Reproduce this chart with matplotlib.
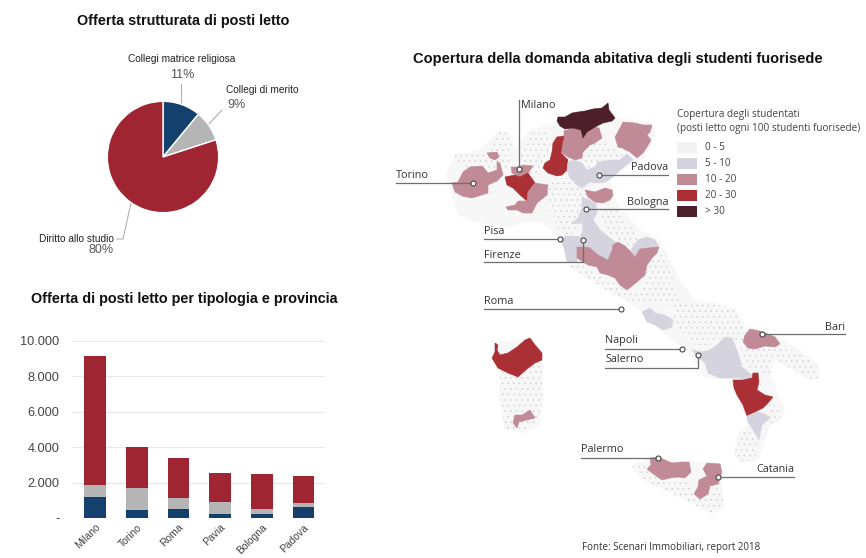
import matplotlib
matplotlib.use('Agg')
import matplotlib.pyplot as plt
from matplotlib.patches import Polygon, Rectangle
from matplotlib.ticker import FuncFormatter

W, H = 866, 558

# torta
pie_labels = ['Collegi matrice religiosa', 'Collegi di merito', 'Diritto allo studio']
pie_values = [11, 9, 80]

# barre impilate
province = ['Milano', 'Torino', 'Roma', 'Pavia', 'Bologna', 'Padova']
religiosi = [1200, 430, 530, 210, 210, 620]
merito = [660, 1240, 620, 710, 300, 245]
diritto = [7290, 2315, 2230, 1600, 1950, 1505]
y_ticks = [0, 2000, 4000, 6000, 8000, 10000]

NAVY = '#14406e'
GREY = '#b5b5b5'
RED = '#9e2531'

# classi della mappa
C0 = '#f7f7f7'
C1 = '#d5d3de'
C2 = '#c08a97'
C3 = '#ab3035'
C4 = '#4c1f2a'
legend_labels = ['0 - 5', '5 - 10', '10 - 20', '20 - 30', '> 30']
legend_colors = ['#f3f3f3', C1, C2, C3, C4]

# contorni geografici, in pixel della figura
italia = [(455, 155), (478, 150), (490, 140), (500, 130), (510, 135), (515, 148), (530, 130), (547, 125),
          (556, 122), (572, 125), (609, 105), (617, 118), (650, 122), (655, 132), (651, 145), (645, 158),
          (636, 162), (620, 172), (610, 180), (612, 190), (618, 205), (640, 230), (660, 240), (670, 260),
          (680, 280), (695, 300), (715, 303), (735, 310), (745, 325), (745, 330), (775, 335), (800, 350),
          (818, 365), (820, 375), (812, 380), (790, 365), (775, 355), (770, 375), (785, 410), (780, 420),
          (770, 425), (765, 440), (758, 460), (742, 462), (734, 455), (738, 435), (748, 425), (745, 415),
          (733, 390), (728, 380), (705, 378), (690, 355), (680, 345), (660, 330), (640, 310), (620, 295),
          (595, 280), (575, 265), (565, 245), (555, 232), (540, 222), (525, 222), (510, 228), (495, 225),
          (475, 222), (458, 215), (450, 190), (446, 175)]
sardegna = [(495, 343), (530, 338), (542, 353), (543, 385), (540, 425), (525, 433), (505, 430), (500, 400),
            (500, 367), (492, 358)]
sicilia = [(632, 465), (650, 458), (690, 462), (720, 463), (722, 490), (725, 508), (712, 514), (695, 505),
           (665, 490), (640, 478)]

# zone a punti
punti = [
    [(455, 155), (478, 152), (490, 150), (497, 133), (508, 132), (513, 150), (505, 172), (490, 168), (470, 168), (458, 165)],
    [(515, 175), (520, 150), (530, 133), (547, 132), (552, 150), (545, 165), (535, 180), (528, 190)],
    [(555, 178), (570, 178), (582, 188), (590, 200), (582, 225), (570, 235), (560, 232), (552, 215), (545, 195)],
    [(590, 145), (605, 140), (615, 150), (625, 155), (610, 160), (598, 165), (588, 168), (583, 158)],
    [(612, 205), (630, 225), (640, 237), (632, 250), (618, 240), (605, 230), (600, 215)],
    [(568, 265), (585, 265), (600, 275), (620, 287), (628, 292), (640, 290), (648, 270), (652, 258), (662, 255),
     (672, 275), (680, 300), (670, 305), (640, 305), (615, 295), (590, 280)],
    [(672, 303), (700, 302), (735, 308), (745, 325), (743, 342), (735, 340), (725, 335), (710, 345), (695, 345),
     (680, 330), (674, 318)],
    [(740, 345), (752, 349), (775, 347), (800, 352), (818, 368), (820, 378), (810, 380), (785, 365), (772, 358),
     (770, 375), (760, 372), (745, 365)],
    [(765, 400), (782, 410), (780, 420), (772, 425), (768, 415)],
    [(745, 428), (755, 433), (758, 445), (755, 460), (742, 462), (734, 455), (737, 438)],
    [(500, 362), (518, 376), (535, 363), (542, 362), (543, 400), (538, 420), (525, 432), (505, 428), (500, 400)],
    [(632, 465), (648, 465), (662, 481), (685, 480), (695, 493), (695, 500), (708, 495), (720, 480), (724, 505),
     (712, 513), (695, 505), (665, 490), (640, 478)],
]

# regioni colorate
regioni = [
    (C2, [(564, 131), (573, 128), (581, 130), (583, 138), (587, 132), (595, 127), (599, 128), (602, 138), (595, 143),
          (590, 145), (583, 152), (582, 158), (575, 160), (568, 157), (562, 153), (560, 145), (564, 137)]),
    (C4, [(558, 117), (565, 117), (572, 113), (578, 112), (585, 111), (593, 109), (602, 108), (608, 103), (609, 110),
          (615, 118), (612, 121), (603, 123), (595, 127), (587, 132), (583, 138), (581, 130), (573, 128), (565, 129),
          (560, 126), (557, 121)]),
    (C3, [(557, 137), (564, 136), (562, 145), (561, 153), (568, 160), (567, 170), (562, 175), (557, 176), (548, 173),
          (543, 168), (545, 163), (550, 160), (552, 152), (553, 143)]),
    (C2, [(623, 122), (635, 123), (643, 125), (652, 125), (650, 132), (647, 135), (651, 140), (647, 147), (643, 153),
          (637, 158), (630, 152), (622, 148), (618, 147), (615, 137), (619, 130)]),
    (C1, [(568, 162), (575, 160), (582, 163), (587, 170), (595, 167), (598, 162), (612, 160), (620, 160), (627, 154),
          (633, 160), (620, 170), (613, 177), (605, 182), (598, 183), (590, 182), (582, 188), (577, 185), (570, 178),
          (567, 170)]),
    (C2, [(585, 190), (595, 192), (605, 188), (612, 190), (613, 195), (610, 200), (603, 203), (595, 202), (588, 197)]),
    (C1, [(582, 197), (596, 203), (597, 212), (593, 220), (600, 230), (610, 238), (617, 243), (612, 248), (608, 260),
          (598, 255), (590, 248), (585, 247), (577, 247), (577, 262), (567, 262), (564, 248), (560, 238), (568, 236),
          (580, 237), (583, 230), (582, 223), (572, 224), (578, 218), (582, 208)]),
    (C1, [(631, 250), (638, 240), (647, 237), (655, 240), (659, 247), (648, 248), (640, 249), (635, 257)]),
    (C2, [(577, 247), (585, 247), (590, 248), (598, 255), (608, 260), (612, 250), (613, 245), (618, 242), (625, 246),
          (631, 252), (635, 257), (640, 249), (648, 248), (659, 247), (657, 253), (652, 258), (647, 265), (645, 275),
          (637, 282), (627, 290), (620, 285), (615, 278), (608, 275), (600, 273), (597, 267), (588, 265), (583, 262),
          (577, 258)]),
    (C1, [(642, 312), (650, 308), (655, 313), (665, 315), (673, 320), (672, 327), (663, 330), (655, 325), (647, 322)]),
    (C1, [(692, 350), (702, 352), (710, 350), (717, 345), (725, 337), (732, 338), (738, 353), (742, 367), (752, 375),
          (750, 380), (740, 378), (732, 378), (720, 378), (708, 373), (705, 363), (698, 357)]),
    (C3, [(733, 380), (743, 380), (752, 378), (753, 373), (758, 373), (759, 382), (757, 390), (765, 395), (773, 397),
          (768, 403), (763, 408), (755, 412), (747, 416), (743, 405), (737, 395), (734, 388)]),
    (C1, [(747, 416), (757, 412), (765, 414), (770, 418), (762, 425), (759, 440), (755, 433), (748, 422)]),
    (C2, [(743, 342), (745, 335), (750, 329), (760, 331), (768, 334), (775, 337), (780, 344), (775, 347), (765, 346),
          (755, 349), (748, 348)]),
    (C3, [(495, 343), (498, 345), (497, 350), (500, 355), (508, 353), (517, 347), (525, 340), (530, 338), (535, 345),
          (542, 353), (542, 360), (535, 363), (527, 369), (518, 377), (508, 373), (498, 368), (492, 358), (495, 352)]),
    (C2, [(515, 415), (522, 415), (530, 410), (535, 418), (527, 420), (519, 422), (517, 428), (513, 423)]),
    (C2, [(650, 458), (658, 457), (665, 460), (672, 463), (682, 462), (689, 462), (691, 472), (685, 478), (678, 477),
          (670, 478), (662, 480), (652, 473), (647, 469), (651, 465)]),
    (C2, [(707, 463), (720, 464), (722, 472), (718, 484), (710, 486), (708, 494), (700, 499), (694, 494), (698, 487),
          (699, 480), (707, 476), (703, 469)]),
    # Piemonte, Valle d'Aosta e Lombardia ovest
    (C2, [(452, 183), (458, 182), (463, 172), (470, 167), (482, 166), (488, 173), (497, 170), (497, 162), (500, 163),
          (503, 175), (497, 181), (488, 185), (488, 193), (472, 198), (462, 196), (455, 192)]),
    (C2, [(487, 153), (497, 152), (499, 157), (495, 160), (490, 158)]),
    (C2, [(511, 167), (518, 167), (523, 165), (533, 166), (528, 173), (520, 177), (512, 173)]),
    (C3, [(505, 177), (515, 175), (520, 177), (528, 173), (535, 183), (528, 192), (527, 201), (520, 195), (513, 188),
          (507, 185)]),
    (C2, [(535, 183), (548, 185), (547, 195), (537, 203), (532, 213), (523, 213), (517, 210), (508, 210), (506, 207),
          (515, 205), (518, 201), (527, 201), (528, 192)]),
]

# etichette: testo, x, y, allineamento, estremi del filo, pallino
mappa_labels = [
    ('Milano', 521, 106, 'left', [(519, 100), (519, 169)], (519, 169)),
    ('Torino', 396, 176, 'left', [(396, 183), (473, 183)], (473, 183)),
    ('Padova', 668, 168, 'right', [(599, 175), (668, 175)], (599, 175)),
    ('Bologna', 668, 202, 'right', [(586, 209), (668, 209)], (586, 209)),
    ('Pisa', 484, 232, 'left', [(484, 239), (560, 239)], (560, 239)),
    ('Firenze', 484, 255, 'left', [(484, 262), (583, 262), (583, 240)], (583, 240)),
    ('Roma', 484, 302, 'left', [(484, 309), (621, 309)], (621, 309)),
    ('Napoli', 605, 341, 'left', [(605, 349), (682, 349)], (682, 349)),
    ('Salerno', 605, 360, 'left', [(605, 368), (698, 368), (698, 355)], (698, 355)),
    ('Bari', 845, 327, 'right', [(762, 334), (845, 334)], (762, 334)),
    ('Palermo', 581, 450, 'left', [(581, 458), (658, 458)], (658, 458)),
    ('Catania', 794, 470, 'right', [(718, 477), (794, 477)], (718, 477)),
]


def px_axes(x0, y0, x1, y1):
    return [x0 / W, 1 - y1 / H, (x1 - x0) / W, (y1 - y0) / H]


plt.rcParams['hatch.linewidth'] = 0.4
plt.rcParams['font.family'] = 'Liberation Sans'
fig = plt.figure(figsize=(W / 100, H / 100), dpi=100)

ov = fig.add_axes([0, 0, 1, 1])
ov.set_xlim(0, W)
ov.set_ylim(H, 0)
ov.axis('off')

# mappa
for contorno in [italia, sardegna, sicilia]:
    ov.add_patch(Polygon(contorno, closed=True, fc=C0, ec='none', zorder=1))
for zona in punti:
    ov.add_patch(Polygon(zona, closed=True, fc=C0, ec='#cfcfcf', lw=0, hatch='...', zorder=2))
for colore, contorno in regioni:
    ov.add_patch(Polygon(contorno, closed=True, fc=colore, ec=colore, lw=0.4, zorder=3))

for testo, x, y, ha, filo, dot in mappa_labels:
    ov.plot([p[0] for p in filo], [p[1] for p in filo], color='#6f6f6f', lw=0.9, zorder=4)
    ov.plot(dot[0], dot[1], 'o', ms=3.6, mfc='white', mec='#444444', mew=0.8, zorder=5)
    ov.text(x, y, testo, ha=ha, va='center', family='Open Sans', fontsize=7.8, color='#333333', zorder=6)

# legenda della mappa
ov.text(677, 114, 'Copertura degli studentati', family='Open Sans', fontsize=7.2, color='#444444', va='center')
ov.text(677, 129, '(posti letto ogni 100 studenti fuorisede)', family='Open Sans', fontsize=7.2, color='#444444',
        va='center')
for i, (lab, col) in enumerate(zip(legend_labels, legend_colors)):
    y = 142 + i * 16
    ov.add_patch(Rectangle((677, y), 20, 10.5, fc=col, ec='none'))
    ov.text(705, y + 5.5, lab, family='Open Sans', fontsize=7.2, color='#444444', va='center')

ov.text(582, 547.5, 'Fonte: Scenari Immobiliari, report 2018', family='Open Sans', fontsize=7, color='#333333',
        va='center')

# titoli
ov.text(183.5, 20.5, 'Offerta strutturata di posti letto', ha='center', va='center', fontsize=10.4,
        fontweight='bold', color='#111111')
ov.text(184.5, 299, 'Offerta di posti letto per tipologia e provincia', ha='center', va='center', fontsize=10.4,
        fontweight='bold', color='#111111')
ov.text(618, 59, 'Copertura della domanda abitativa degli studenti fuorisede', ha='center', va='center',
        fontsize=10.5, fontweight='bold', color='#111111')

# torta
ax_pie = fig.add_axes(px_axes(163 - 69.6, 157 - 69.6, 163 + 69.6, 157 + 69.6))
ax_pie.pie(pie_values, colors=[NAVY, GREY, RED], startangle=90, counterclock=False,
           wedgeprops={'edgecolor': 'white', 'linewidth': 1.0})

ov.plot([181, 181], [84, 103], color='#b0b0b0', lw=0.8)
ov.plot([222, 208], [110, 125], color='#b0b0b0', lw=0.8)
ov.plot([117, 123, 131], [239, 239, 203], color='#b0b0b0', lw=0.8)
ov.text(181.5, 59, pie_labels[0], ha='center', va='center', fontsize=7.3, color='#222222')
ov.text(182.5, 75, f'{pie_values[0]}%', ha='center', va='center', fontsize=9, color='#555555')
ov.text(226, 90, pie_labels[1], ha='left', va='center', fontsize=7.3, color='#222222')
ov.text(237, 105, f'{pie_values[1]}%', ha='center', va='center', fontsize=9, color='#555555')
ov.text(114, 239, pie_labels[2], ha='right', va='center', fontsize=7.3, color='#222222')
ov.text(101, 250, f'{pie_values[2]}%', ha='center', va='center', fontsize=9, color='#555555')

# barre
ax = fig.add_axes(px_axes(72, 340.7, 324, 518))
x = list(range(len(province)))
base2 = [a + b for a, b in zip(religiosi, merito)]
ax.bar(x, religiosi, width=0.52, color=NAVY, zorder=3)
ax.bar(x, merito, width=0.52, bottom=religiosi, color=GREY, zorder=3)
ax.bar(x, diritto, width=0.52, bottom=base2, color=RED, zorder=3)
ax.set_xlim(-0.55, 5.49)
ax.set_ylim(0, 10000)
ax.set_yticks(y_ticks)
ax.yaxis.set_major_formatter(FuncFormatter(lambda v, p: '-' if v == 0 else f'{int(v):,}'.replace(',', '.')))
ax.grid(axis='y', color='#e6e6e6', lw=0.8, zorder=0)
ax.set_axisbelow(True)
for s in ax.spines.values():
    s.set_visible(False)
ax.tick_params(axis='y', length=0, pad=9, labelsize=9.2, labelcolor='#444444')
ax.set_xticks(x)
ax.set_xticklabels(province, rotation=45, ha='right', rotation_mode='anchor', fontsize=7.5, color='#444444')
ax.tick_params(axis='x', length=0, pad=3)
ax.patch.set_alpha(0)

fig.savefig('out.png', dpi=100)
